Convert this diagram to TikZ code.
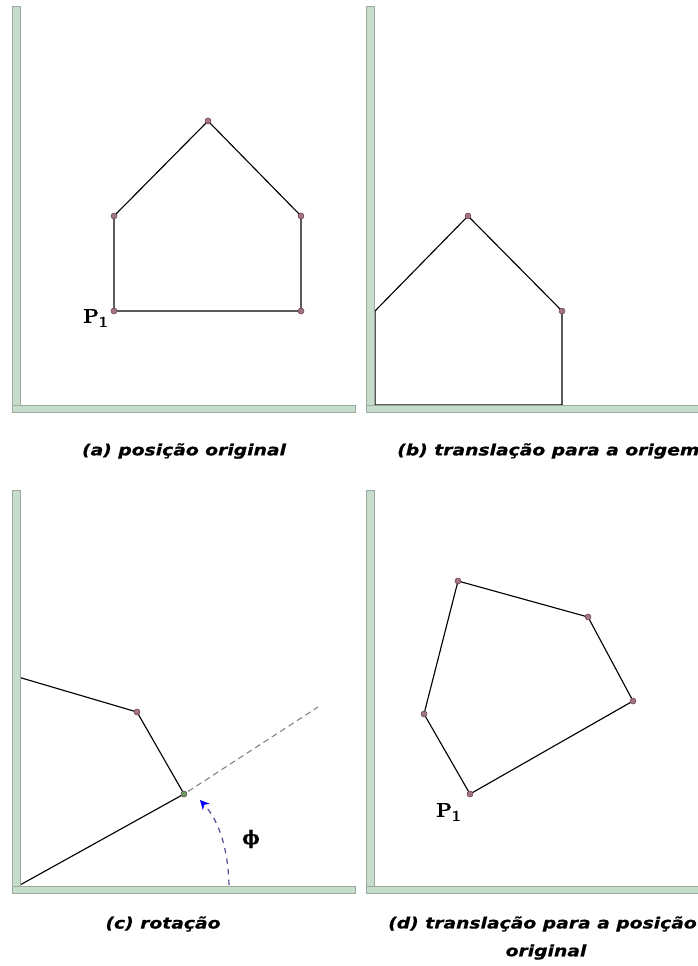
\documentclass[tikz,border=0pt]{standalone}
\usepackage{fontspec}
\usetikzlibrary{arrows.meta}
\newfontfamily\capfont[FakeStretch=1.2,FakeBold=0.6]{DejaVu Sans}
\newfontfamily\plfont[FakeBold=1.2]{lmroman10-bold.otf}
\newfontfamily\phifont[FakeBold=0.8]{DejaVu Serif}
\definecolor{barfill}{HTML}{C7DDCB}
\definecolor{barline}{HTML}{9DAA9F}
\definecolor{dotfill}{HTML}{A07480}
\definecolor{dotline}{HTML}{6E4450}
\definecolor{arcblue}{HTML}{4C4C9A}
\tikzset{
  bar/.style={fill=barfill, draw=barline, line width=0.6pt},
  edge/.style={draw=black, line width=0.85pt},
  vdot/.style={circle, fill=dotfill, draw=dotline, line width=0.4pt, inner sep=0pt, minimum size=4.5pt},
  caption/.style={font=\capfont\bfseries\itshape\fontsize{11.7}{13}\selectfont, inner sep=0pt},
  plabel/.style={font=\plfont\fontsize{15}{15}\selectfont, inner sep=0pt},
}
\newcommand{\pone}{P\raisebox{-0.45ex}{\fontsize{11.5}{11}\selectfont 1}}
\begin{document}
\begin{tikzpicture}[x=0.75pt,y=-0.75pt]
\useasboundingbox[fill=white] (0,0) rectangle (698,966);

% ---------- panel (a) ----------
\coordinate (a1) at (114,311);
\coordinate (a2) at (301,311);
\coordinate (a3) at (301,216);
\coordinate (a4) at (208,121);
\coordinate (a5) at (114,216);
\draw[edge] (a1) -- (a2) -- (a3) -- (a4) -- (a5) -- cycle;
\foreach \p in {a1,a2,a3,a4,a5} \node[vdot] at (\p) {};
\node[plabel, anchor=east] (pa) at (108,318) {\pone};
\draw[bar] (12,6) rectangle (20,412);
\draw[bar] (12,405) rectangle (355,412);
\node[caption] (capa) at (184,451) {(a) posição original};

% ---------- panel (b) ----------
\coordinate (b1) at (375,405);
\coordinate (b2) at (562,405);
\coordinate (b3) at (562,311);
\coordinate (b4) at (468,216);
\coordinate (b5) at (375,311);
\draw[edge] (b1) -- (b2) -- (b3) -- (b4) -- (b5) -- cycle;
\node[vdot] at (b3) {};
\node[vdot] at (b4) {};
\draw[bar] (366,6) rectangle (374,412);
\draw[bar] (366,405) rectangle (700,412);
\node[caption, anchor=west] (capb) at (397,451) {(b) translação para a origem};

% ---------- panel (c) ----------
\coordinate (c1) at (20,885);
\coordinate (c2) at (184,794);
\coordinate (c3) at (137,712);
\coordinate (c4) at (8,674);
\coordinate (c5) at (-27,802);
\coordinate (cend) at (318,707);
\begin{scope}
  \clip (20,480) rectangle (360,886);
  \draw[edge] (c1) -- (c2) -- (c3) -- (c4) -- (c5) -- cycle;
\end{scope}
\node[vdot] at (c3) {};
\node[vdot, fill=dotfill!60!green!60!gray] at (c2) {};
\draw[gray, line width=0.8pt, dash pattern=on 4.5pt off 3pt] (c2) ++(4,-2.5) coordinate (cstart) -- (cend);
\coordinate (arcs) at (229,885);
\coordinate (arce) at (200,800);
\draw[arcblue, line width=0.9pt, dash pattern=on 4pt off 4pt, -{Stealth[length=7pt,width=7pt,blue]}]
  (arcs) .. controls (228,850) and (220,822) .. (arce);
\node[font=\phifont\bfseries\fontsize{14}{14}\selectfont, inner sep=0pt] (phi) at (251,839) {ϕ};
\draw[bar] (12,490) rectangle (20,893);
\draw[bar] (12,886) rectangle (355,893);
\node[caption] (capc) at (163,924) {(c) rotação};

% ---------- panel (d) ----------
\coordinate (d1) at (470,794);
\coordinate (d2) at (633,701);
\coordinate (d3) at (588,617);
\coordinate (d4) at (458,581);
\coordinate (d5) at (424,714);
\draw[edge] (d1) -- (d2) -- (d3) -- (d4) -- (d5) -- cycle;
\foreach \p in {d1,d2,d3,d4,d5} \node[vdot] at (\p) {};
\node[plabel, anchor=east] (pd) at (461,812) {\pone};
\draw[bar] (366,490) rectangle (374,893);
\draw[bar] (366,886) rectangle (700,893);
\node[caption, anchor=west] (capd1) at (388,924) {(d) translação para a posição};
\node[caption] (capd2) at (546,952) {original};
\end{tikzpicture}
\end{document}
